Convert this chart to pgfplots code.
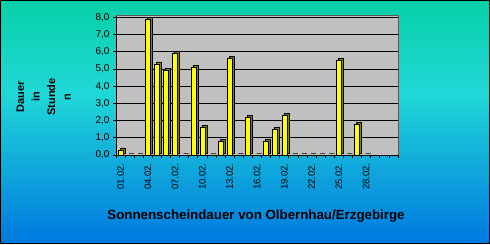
\documentclass[border=0pt]{standalone}
\usepackage{pgfplots}
\pgfplotsset{compat=1.18}
\usepackage{pgfplotstable}
\usepackage{fontspec}
\setmainfont{Liberation Sans}
\definecolor{bgtop}{RGB}{6,208,168}
\definecolor{bgmid}{RGB}{32,216,216}
\definecolor{bgbot}{RGB}{0,120,224}
\definecolor{wall}{RGB}{192,192,192}
\definecolor{olivebar}{RGB}{128,128,0}
\definecolor{yellowbar}{RGB}{255,255,0}
\pgfdeclareverticalshading{bgshade}{100bp}{color(0bp)=(bgbot); color(25bp)=(bgbot); color(56bp)=(bgmid); color(75bp)=(bgtop); color(100bp)=(bgtop)}

\pgfplotstableread{
day val
1 0.3
2 0
3 0
4 7.9
5 5.3
6 4.9
7 5.9
8 0
9 5.1
10 1.6
11 0
12 0.8
13 5.6
14 0
15 2.2
16 0
17 0.8
18 1.5
19 2.3
20 0
21 0
22 0
23 0
24 0
25 5.5
26 0
27 1.8
28 0
}\sonne

\begin{document}
\begin{tikzpicture}[x=1pt,y=1pt]
\shade[shading=bgshade, draw=black, line width=1pt] (0.5,0.5) rectangle (489.5,243.5);
\begin{axis}[
  at={(116pt,89pt)}, anchor=south west,
  scale only axis, width=282pt, height=139.7pt,
  xmin=0.5, xmax=31.5, ymin=0, ymax=8.12,
  axis background/.style={fill=wall},
  axis lines=left, axis line style={-, black, line width=0.8pt},
  tick align=outside, major tick length=3pt,
  tick style={black, line width=0.8pt},
  ytick={0,1,...,8},
  ymajorgrids, grid style={black, line width=0.8pt},
  yticklabel style={font=\fontsize{10}{12}\selectfont},
  /pgf/number format/.cd, fixed, fixed zerofill, precision=1, use comma, assume math mode=true,
  /pgfplots/.cd,
  xtick={0.5,1.5,...,31.5}, xticklabel=\empty,
  extra x ticks={1,4,7,10,13,16,19,22,25,28},
  extra x tick labels={01.02.,04.02.,07.02.,10.02.,13.02.,16.02.,19.02.,22.02.,25.02.,28.02.},
  extra x tick style={major tick length=0pt, xticklabel style={rotate=90, anchor=east, font=\fontsize{9.5}{11}\selectfont}, xticklabel shift=5pt},
  after end axis/.code={\draw[gray!70!black, line width=0.8pt] (rel axis cs:0,1) -- (rel axis cs:1,1) -- (rel axis cs:1,0);},
  clip=false,
]
\addplot[ybar, bar width=5pt, bar shift=2pt, yshift=2pt, fill=olivebar, draw=black, line width=0.5pt] table[x=day,y=val]{\sonne};
\addplot[ybar, bar width=5pt, bar shift=0pt, fill=yellowbar, draw=black, line width=0.5pt] table[x=day,y=val]{\sonne};
\end{axis}
\node[rotate=90, align=center, font=\bfseries\fontsize{11}{15.5}\selectfont] at (43.5,147) {Dauer\\in\\Stunde\\n};
\node[anchor=base, font=\bfseries\fontsize{13.3}{16}\selectfont] at (256,25) {Sonnenscheindauer von Olbernhau/Erzgebirge};
\end{tikzpicture}
\end{document}
